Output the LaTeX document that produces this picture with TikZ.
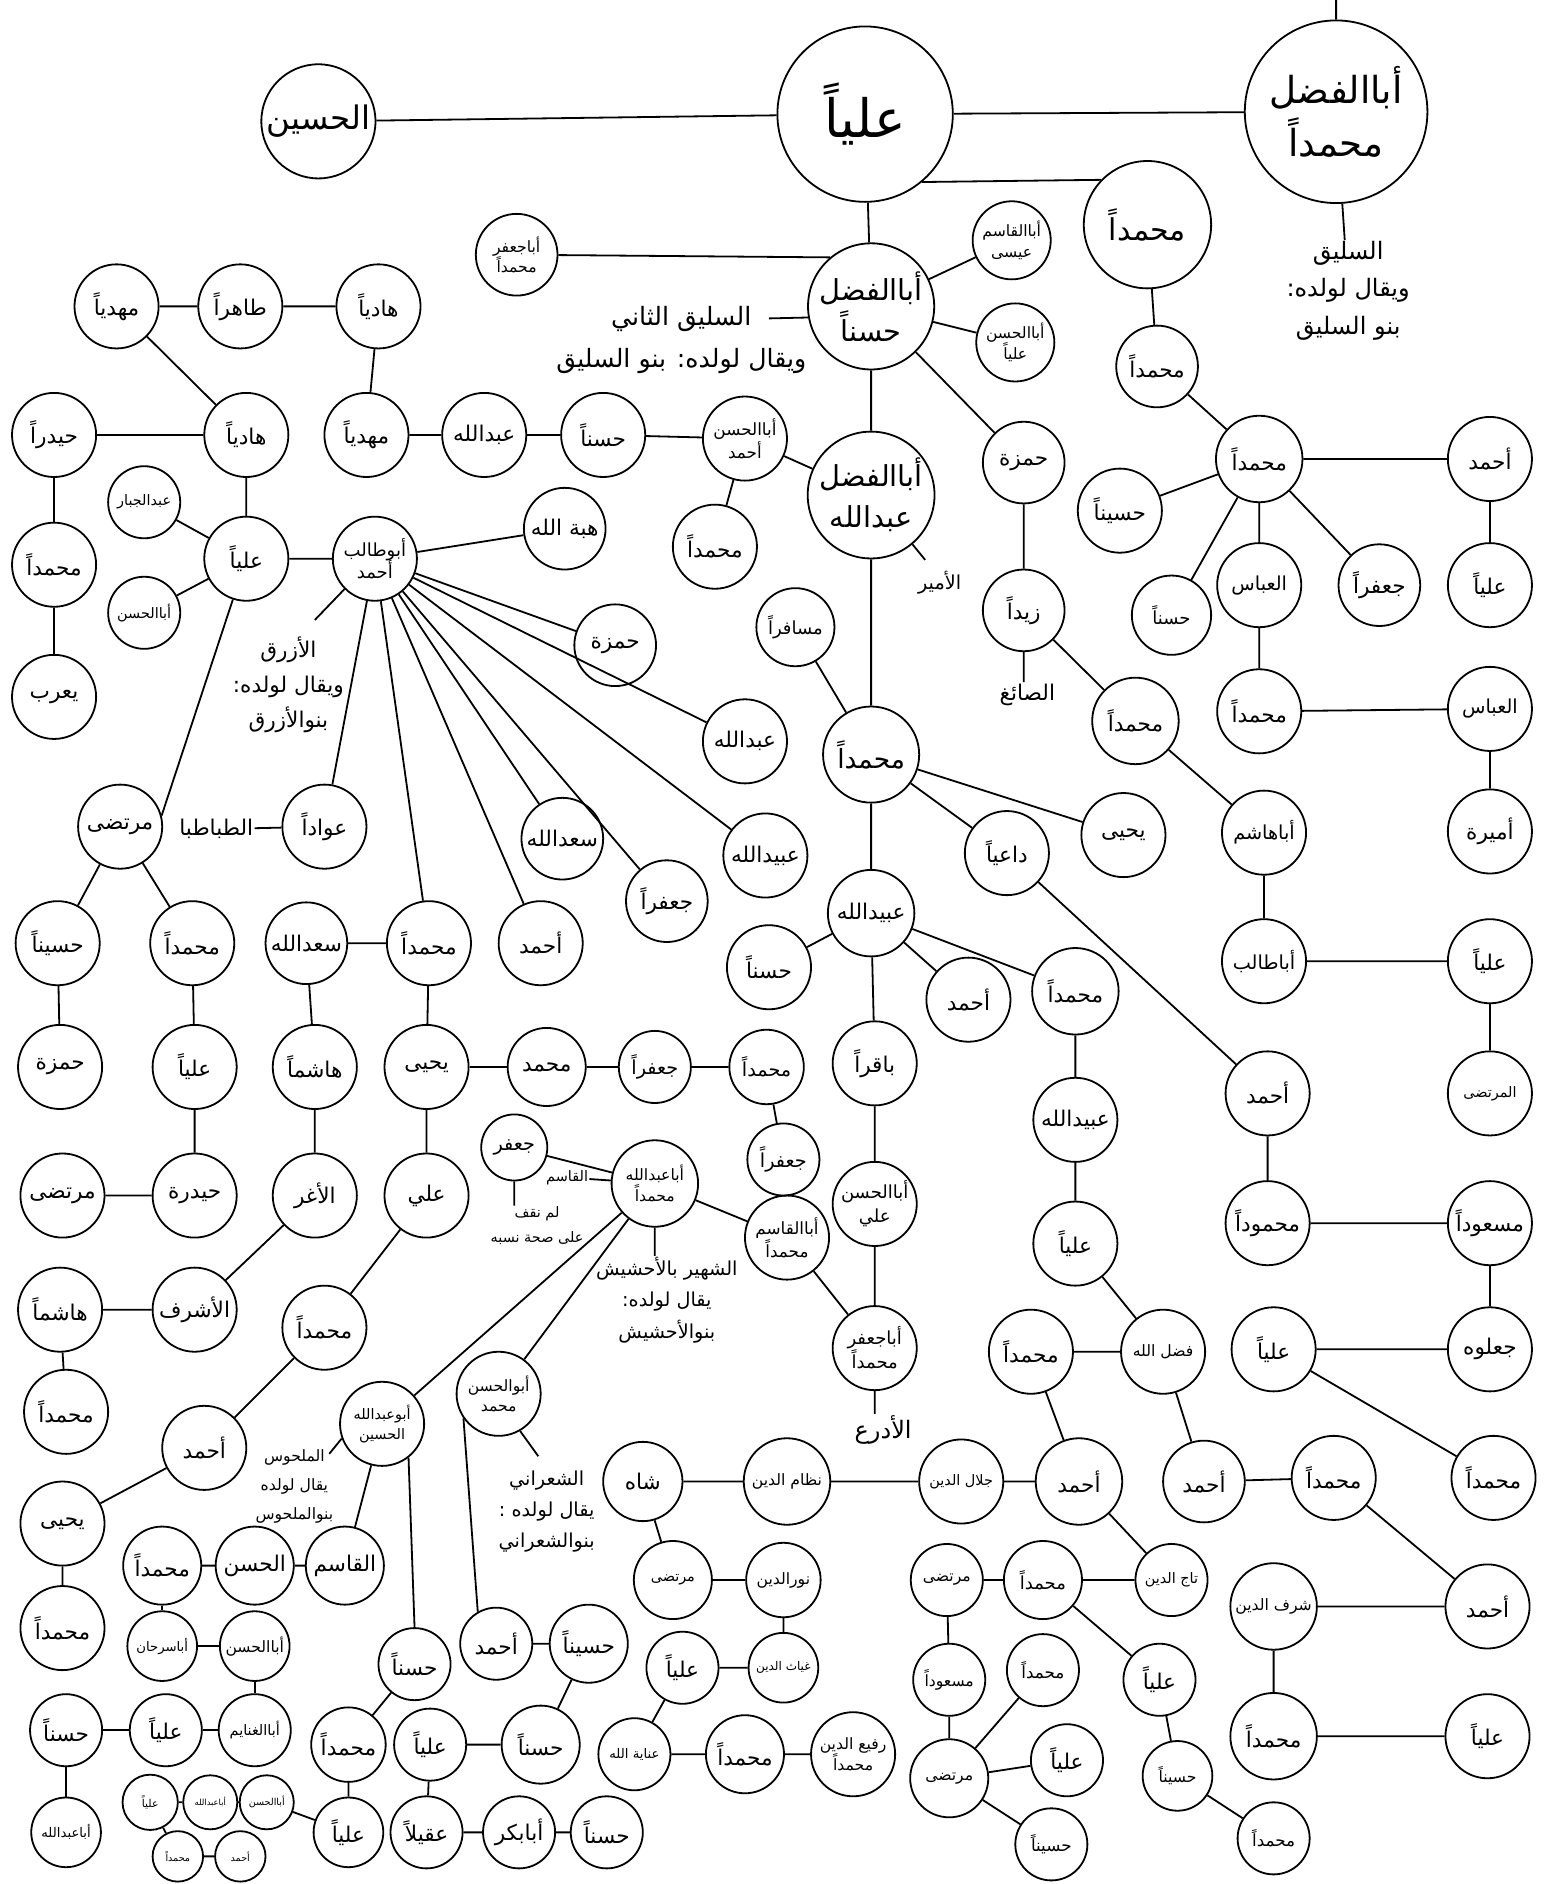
\documentclass[tikz,border=0pt]{standalone}
\usepackage{fontspec}
\usepackage{tikz}
\usetikzlibrary{positioning}
\newfontfamily\arabicfont[Script=Arabic]{DejaVu Sans}
\TeXXeTstate=1
\newcommand{\ar}[1]{\beginR#1\endR}
\newcommand{\arf}[2]{\arabicfont\fontsize{#1}{#2}\selectfont}

\begin{document}
\begin{tikzpicture}[
        x=1pt, y=-1pt,
        pers/.style={draw, circle, line width=1.5pt, inner sep=0pt, minimum size=70pt, align=center, font=\arf{18}{21}},
        duo/.style={pers, font=\arf{13}{17}},
        wee/.style={pers, font=\arf{11}{13}},
        note/.style={align=center, inner sep=1pt, font=\arf{18}{27}},
        link/.style={line width=1.5pt}
    ]
    \useasboundingbox (0,0) rectangle (1290,1568);
    % top row
    \node[pers, minimum size=95pt, font=\arf{27}{30}] (husayn) at (265,101) {\ar{الحسين}};
    \node[pers, minimum size=146pt, font=\arf{44}{48}] (ali0) at (720,95) {\ar{علياً}};
    \node[pers, minimum size=152pt, font=\arf{31}{44}] (fadlM) at (1112,93) {\ar{أباالفضل}\\\ar{محمداً}};
    \coordinate (topend) at (1112,0);
    \node[note, font=\arf{20}{31}] (salq) at (1122,242) {\ar{السليق}\\\ar{ويقال لولده:}\\\ar{بنو السليق}};
    \node[pers, minimum size=106pt, font=\arf{25}{28}] (mu1) at (955,187) {\ar{محمداً}};
    % right side
    \node[pers, minimum size=68pt] (mu2) at (963,305) {\ar{محمداً}};
    \node[pers, minimum size=72pt] (mu3) at (1048,382) {\ar{محمداً}};
    \node[pers] (ahmadR) at (1240,382) {\ar{أحمد}};
    \node[pers] (aliR1) at (1240,487) {\ar{علياً}};
    \node[pers] (husaynR) at (932,425) {\ar{حسيناً}};
    \node[pers, minimum size=66pt, font=\arf{15}{17}] (hasanR) at (975,512) {\ar{حسناً}};
    \node[pers, font=\arf{16}{18}] (abbas1) at (1048,487) {\ar{العباس}};
    \node[pers, minimum size=68pt] (jafarR) at (1148,487) {\ar{جعفراً}};
    \node[pers] (muR4) at (1048,592) {\ar{محمداً}};
    \node[pers, font=\arf{16}{18}] (abbas2) at (1240,590) {\ar{العباس}};
    \node[pers] (amira) at (1240,692) {\ar{أميرة}};
    \node[pers, font=\arf{16}{18}] (abuhashim) at (1052,693) {\ar{أباهاشم}};
    \node[pers, font=\arf{16}{18}] (abutalibR) at (1052,800) {\ar{أباطالب}};
    \node[pers] (aliR2) at (1240,800) {\ar{علياً}};
    \node[pers, font=\arf{12}{14}] (murtadaR) at (1240,910) {\ar{المرتضى}};
    \node[pers] (ahmadD) at (1055,910) {\ar{أحمد}};
    \node[pers] (mahmud) at (1055,1018) {\ar{محموداً}};
    \node[pers] (masud) at (1240,1018) {\ar{مسعوداً}};
    \node[pers] (jalwa) at (1240,1123) {\ar{جعلوه}};
    \node[pers] (aliJ) at (1060,1123) {\ar{علياً}};
    \node[pers] (muJ) at (1243,1230) {\ar{محمداً}};
    \node[pers, minimum size=68pt] (ahmadF) at (1002,1233) {\ar{أحمد}};
    \node[pers] (muF) at (1110,1230) {\ar{محمداً}};
    \node[pers] (ahmadS) at (1238,1337) {\ar{أحمد}};
    \node[pers, minimum size=72pt, font=\arf{13}{15}] (sharaf) at (1060,1337) {\ar{شرف الدين}};
    \node[pers, minimum size=72pt] (muS) at (1060,1445) {\ar{محمداً}};
    \node[pers] (aliS) at (1238,1445) {\ar{علياً}};
    % centre
    \node[pers, minimum size=105pt, font=\arf{24}{34}] (fadlH) at (725,255) {\ar{أباالفضل}\\\ar{حسناً}};
    \node[duo, minimum size=68pt] (jafarM) at (430,212) {\ar{أباجعفر}\\\ar{محمداً}};
    \node[duo, minimum size=65pt] (qasimIsa) at (842,200) {\ar{أباالقاسم}\\\ar{عيسى}};
    \node[duo, minimum size=65pt] (hasanAli) at (845,285) {\ar{أباالحسن}\\\ar{علياً}};
    \node[note, font=\arf{21}{35}] (salq2) at (567,283) {\ar{السليق الثاني}\\\ar{ويقال لولده: بنو السليق}};
    \coordinate (salq2e) at (640,265);
    \node[pers, minimum size=68pt] (hamza1) at (852,385) {\ar{حمزة}};
    \node[pers, minimum size=68pt] (zayd) at (852,508) {\ar{زيداً}};
    \node[note] (saigh) at (855,578) {\ar{الصائغ}};
    \node[pers, minimum size=72pt] (muZ) at (945,600) {\ar{محمداً}};
    \node[pers, minimum size=100pt, font=\arf{24}{34}] (fadlA) at (725,412) {\ar{أباالفضل}\\\ar{عبدالله}};
    \node[note, font=\arf{16}{18}] (amir) at (782,485) {\ar{الأمير}};
    \coordinate (amire) at (770,466);
    \node[duo, font=\arf{14}{19}] (hasanAhmad) at (620,365) {\ar{أباالحسن}\\\ar{أحمد}};
    \node[pers] (muHA) at (595,455) {\ar{محمداً}};
    \node[pers] (hasanH) at (502,362) {\ar{حسناً}};
    \node[pers] (abdallahH) at (403,362) {\ar{عبدالله}};
    \node[pers] (mahdi2) at (305,362) {\ar{مهدياً}};
    \node[pers] (hadi1) at (315,255) {\ar{هادياً}};
    \node[pers] (tahir) at (200,255) {\ar{طاهراً}};
    \node[pers] (mahdi1) at (97,255) {\ar{مهدياً}};
    \node[pers] (hadi2) at (205,362) {\ar{هادياً}};
    \node[pers] (haydar) at (45,362) {\ar{حيدراً}};
    \node[pers] (muH) at (45,470) {\ar{محمداً}};
    \node[pers] (yarub) at (45,580) {\ar{يعرب}};
    \node[pers] (aliT) at (205,465) {\ar{علياً}};
    \node[wee, minimum size=60pt, font=\arf{12}{14}] (abdjabbar) at (120,418) {\ar{عبدالجبار}};
    \node[wee, minimum size=60pt, font=\arf{12}{14}] (abuhasanT) at (120,510) {\ar{أباالحسن}};
    \node[duo, font=\arf{15}{19}] (abutalib) at (312,465) {\ar{أبوطالب}\\\ar{أحمد}};
    \node[pers, minimum size=68pt] (hibat) at (470,440) {\ar{هبة الله}};
    \node[note, font=\arf{18}{29}] (azraq) at (240,570) {\ar{الأزرق}\\\ar{ويقال لولده:}\\\ar{بنوالأزرق}};
    \coordinate (azraqe) at (262,516);
    \node[pers] (murtada1) at (100,688) {\ar{مرتضى}};
    \node[note] (tabataba) at (180,690) {\ar{الطباطبا}};
    \node[pers] (awwad) at (270,688) {\ar{عواداً}};
    \node[pers, minimum size=68pt] (hamzaT) at (512,537) {\ar{حمزة}};
    \node[pers] (abdallahT) at (620,617) {\ar{عبدالله}};
    \node[pers] (ubaydT) at (637,712) {\ar{عبيدالله}};
    \node[pers, minimum size=68pt] (jafarT) at (555,750) {\ar{جعفراً}};
    \node[pers, minimum size=68pt] (sadT) at (468,698) {\ar{سعدالله}};
    \node[pers] (ahmadT) at (450,785) {\ar{أحمد}};
    \node[pers] (muT) at (357,785) {\ar{محمداً}};
    % left lower
    \node[pers] (husaynM) at (48,785) {\ar{حسيناً}};
    \node[pers] (muM) at (160,785) {\ar{محمداً}};
    \node[pers] (hamzaM) at (50,888) {\ar{حمزة}};
    \node[pers] (aliM) at (162,888) {\ar{علياً}};
    \node[pers] (haydara) at (162,995) {\ar{حيدرة}};
    \node[pers] (murtada2) at (52,995) {\ar{مرتضى}};
    \node[pers, minimum size=68pt] (sadM) at (255,785) {\ar{سعدالله}};
    \node[pers] (hashim1) at (262,888) {\ar{هاشماً}};
    \node[pers] (aghar) at (262,995) {\ar{الأغر}};
    \node[pers] (ashraf) at (162,1090) {\ar{الأشرف}};
    \node[pers] (hashim2) at (50,1090) {\ar{هاشماً}};
    \node[pers] (muHs) at (55,1175) {\ar{محمداً}};
    \node[pers] (yahya1) at (355,888) {\ar{يحيى}};
    \node[pers] (aliY) at (355,995) {\ar{علي}};
    \node[pers] (muY) at (270,1105) {\ar{محمداً}};
    \node[pers] (ahmadY) at (170,1205) {\ar{أحمد}};
    \node[pers] (yahya2) at (52,1268) {\ar{يحيى}};
    \node[pers] (muY2) at (52,1355) {\ar{محمداً}};
    \node[pers, minimum size=65pt] (muhammadN) at (455,888) {\ar{محمد}};
    \node[pers, minimum size=60pt, font=\arf{16}{18}] (jafarN) at (545,888) {\ar{جعفراً}};
    \node[pers, minimum size=62pt, font=\arf{16}{18}] (muN) at (638,888) {\ar{محمداً}};
    \node[pers, minimum size=60pt, font=\arf{16}{18}] (jafarN2) at (652,965) {\ar{جعفراً}};
    \node[pers, minimum size=55pt, font=\arf{16}{18}] (jafar) at (428,955) {\ar{جعفر}};
    \node[note, font=\arf{12}{20}] (lamnaqif) at (447,1020) {\ar{لم نقف}\\\ar{على صحة نسبه}};
    \node[duo, minimum size=72pt] (abuabdallah) at (545,985) {\ar{أباعبدالله}\\\ar{محمداً}};
    \node[note, font=\arf{12}{14}] (qasimL) at (472,980) {\ar{القاسم}};
    \node[note, font=\arf{16}{26}] (ahshish) at (555,1082) {\ar{الشهير بالأحشيش}\\\ar{يقال لولده:}\\\ar{بنوالأحشيش}};
    \node[duo, font=\arf{14}{19}] (abuqasimM) at (655,1030) {\ar{أباالقاسم}\\\ar{محمداً}};
    \node[duo, font=\arf{15}{20}] (abuhasanAli) at (728,1002) {\ar{أباالحسن}\\\ar{علي}};
    \node[duo, font=\arf{15}{20}] (abujafarM) at (728,1122) {\ar{أباجعفر}\\\ar{محمداً}};
    \node[note, font=\arf{20}{24}] (adra) at (735,1190) {\ar{الأدرع}};
    % centre lower
    \node[pers, minimum size=65pt, font=\arf{15}{17}] (musafir) at (662,522) {\ar{مسافراً}};
    \node[pers, minimum size=80pt, font=\arf{22}{26}] (muC) at (725,628) {\ar{محمداً}};
    \node[pers] (yahyaC) at (935,695) {\ar{يحيى}};
    \node[pers] (daiya) at (838,710) {\ar{داعياً}};
    \node[pers, minimum size=72pt] (ubaydC) at (725,760) {\ar{عبيدالله}};
    \node[pers] (hasanC) at (640,805) {\ar{حسناً}};
    \node[pers] (ahmadC) at (806,832) {\ar{أحمد}};
    \node[pers, minimum size=72pt] (muC2) at (895,825) {\ar{محمداً}};
    \node[pers] (baqir) at (728,885) {\ar{باقراً}};
    \node[pers] (ubaydC2) at (895,932) {\ar{عبيدالله}};
    \node[pers] (aliC) at (895,1035) {\ar{علياً}};
    \node[pers, font=\arf{13}{15}] (fadlallah) at (968,1125) {\ar{فضل الله}};
    \node[pers] (muFa) at (858,1125) {\ar{محمداً}};
    \node[pers, minimum size=72pt] (ahmadJ) at (898,1233) {\ar{أحمد}};
    \node[pers, font=\arf{12}{14}] (jalal) at (800,1233) {\ar{جلال الدين}};
    \node[pers, minimum size=72pt, font=\arf{13}{15}] (nizam) at (655,1233) {\ar{نظام الدين}};
    \node[pers, minimum size=66pt] (shah) at (535,1233) {\ar{شاه}};
    \node[pers, minimum size=65pt, font=\arf{12}{14}] (murtadaS) at (560,1315) {\ar{مرتضى}};
    \node[pers, minimum size=62pt, font=\arf{13}{15}] (nuraldin) at (652,1315) {\ar{نورالدين}};
    \node[pers, minimum size=58pt, font=\arf{10}{12}] (ghiyath) at (652,1388) {\ar{غياث الدين}};
    \node[pers, minimum size=60pt] (aliG) at (568,1388) {\ar{علياً}};
    \node[pers, minimum size=60pt, font=\arf{11}{13}] (inayat) at (528,1460) {\ar{عناية الله}};
    \node[pers, minimum size=65pt] (muI) at (620,1460) {\ar{محمداً}};
    \node[duo] (rafi) at (710,1460) {\ar{رفيع الدين}\\\ar{محمداً}};
    \node[pers, minimum size=60pt, font=\arf{12}{14}] (taj) at (975,1315) {\ar{تاج الدين}};
    \node[pers, minimum size=65pt, font=\arf{15}{17}] (muT2) at (868,1315) {\ar{محمداً}};
    \node[pers, minimum size=60pt, font=\arf{13}{15}] (murtadaT) at (788,1315) {\ar{مرتضى}};
    \node[pers, minimum size=60pt, font=\arf{13}{15}] (masudT) at (790,1398) {\ar{مسعوداً}};
    \node[pers, minimum size=65pt, font=\arf{13}{15}] (murtadaT2) at (790,1480) {\ar{مرتضى}};
    \node[pers, minimum size=60pt, font=\arf{14}{16}] (muT3) at (868,1390) {\ar{محمداً}};
    \node[pers, minimum size=60pt] (aliT3) at (888,1465) {\ar{علياً}};
    \node[pers, minimum size=60pt, font=\arf{14}{16}] (husaynT3) at (875,1535) {\ar{حسيناً}};
    \node[pers, minimum size=60pt] (aliT4) at (965,1398) {\ar{علياً}};
    \node[pers, minimum size=58pt, font=\arf{13}{15}] (husaynT4) at (980,1478) {\ar{حسيناً}};
    \node[pers, minimum size=60pt, font=\arf{14}{16}] (muT4) at (1060,1530) {\ar{محمداً}};
    % bottom left
    \node[duo, font=\arf{12}{17}] (abuabdallahH) at (318,1185) {\ar{أبوعبدالله}\\\ar{الحسين}};
    \node[note, font=\arf{13}{24}] (malhus) at (245,1237) {\ar{الملحوس}\\\ar{يقال لولده}\\\ar{بنوالملحوس}};
    \coordinate (malhuse) at (274,1210);
    \node[pers, minimum size=65pt] (qasimH) at (287,1303) {\ar{القاسم}};
    \node[pers, minimum size=65pt] (hasanQ) at (212,1303) {\ar{الحسن}};
    \node[pers, minimum size=65pt] (muQ) at (135,1303) {\ar{محمداً}};
    \node[wee, minimum size=58pt] (abusirhan) at (135,1370) {\ar{أباسرحان}};
    \node[pers, minimum size=58pt, font=\arf{13}{15}] (abuhasanQ) at (212,1370) {\ar{أباالحسن}};
    \node[pers, minimum size=60pt, font=\arf{12}{14}] (abughanayim) at (212,1440) {\ar{أباالغنايم}};
    \node[pers, minimum size=60pt] (aliQ) at (138,1440) {\ar{علياً}};
    \node[pers, minimum size=60pt] (hasanQ2) at (55,1440) {\ar{حسناً}};
    \node[wee, minimum size=58pt] (abuabdallahQ) at (55,1525) {\ar{أباعبدالله}};
    \node[pers, minimum size=60pt] (hasanAH) at (345,1385) {\ar{حسناً}};
    \node[pers, minimum size=62pt] (muAH) at (290,1452) {\ar{محمداً}};
    \node[pers, minimum size=58pt] (aliAH) at (290,1525) {\ar{علياً}};
    \node[pers, minimum size=45pt, font=\arf{8}{10}] (abuhasanS) at (222,1500) {\ar{أباالحسن}};
    \node[pers, minimum size=45pt, font=\arf{7}{9}] (abuabdallahS) at (175,1500) {\ar{أباعبدالله}};
    \node[pers, minimum size=46pt, font=\arf{9}{11}] (aliS2) at (125,1500) {\ar{علياً}};
    \node[pers, minimum size=42pt, font=\arf{8}{10}] (muS2) at (148,1545) {\ar{محمداً}};
    \node[pers, minimum size=42pt, font=\arf{8}{10}] (ahmadS2) at (200,1545) {\ar{أحمد}};
    \node[duo] (abuhasanM) at (415,1160) {\ar{أبوالحسن}\\\ar{محمد}};
    \node[note, font=\arf{16}{26}] (shaarani) at (455,1258) {\ar{الشعراني}\\\ar{يقال لولده :}\\\ar{بنوالشعراني}};
    \coordinate (shaaranie) at (448,1212);
    \node[pers, minimum size=60pt] (ahmadM) at (413,1368) {\ar{أحمد}};
    \node[pers, minimum size=65pt] (husaynM2) at (490,1368) {\ar{حسيناً}};
    \node[pers, minimum size=65pt] (hasanM2) at (450,1452) {\ar{حسناً}};
    \node[pers, minimum size=60pt] (aliM2) at (358,1452) {\ar{علياً}};
    \node[pers, minimum size=60pt] (aqil) at (355,1525) {\ar{عقيلاً}};
    \node[pers, minimum size=60pt] (abubakr) at (432,1525) {\ar{أبابكر}};
    \node[pers, minimum size=60pt] (hasanB) at (505,1525) {\ar{حسناً}};

    % connectors
    \draw[link] (ali0) -- (husayn) (ali0) -- (fadlM) (ali0.-50) -- (mu1.136) (ali0) -- (fadlH);
    \draw[link] (fadlM) -- (topend) (fadlM) -- (salq);
    \draw[link] (mu1) -- (mu2) (mu2) -- (mu3) (mu3) -- (ahmadR) (ahmadR) -- (aliR1);
    \draw[link] (mu3) -- (husaynR) (mu3) -- (hasanR) (mu3) -- (abbas1) (mu3) -- (jafarR);
    \draw[link] (abbas1) -- (muR4) (muR4) -- (abbas2) (abbas2) -- (amira);
    \draw[link] (muZ) -- (abuhashim) (abuhashim) -- (abutalibR) (abutalibR) -- (aliR2) (aliR2) -- (murtadaR);
    \draw[link] (daiya) -- (ahmadD) (ahmadD) -- (mahmud) (mahmud) -- (masud) (masud) -- (jalwa) (jalwa) -- (aliJ) (aliJ) -- (muJ);
    \draw[link] (fadlallah) -- (ahmadF) (ahmadF) -- (muF) (muF) -- (ahmadS) (ahmadS) -- (sharaf) (sharaf) -- (muS) (muS) -- (aliS);
    \draw[link] (jafarM) -- (fadlH.130) (fadlH) -- (qasimIsa) (fadlH) -- (hasanAli) (fadlH) -- (hamza1) (fadlH) -- (fadlA) (fadlH.190) -- (salq2e);
    \draw[link] (hamza1) -- (zayd) (zayd.south) -- (zayd.south |- saigh.north) (zayd) -- (muZ);
    \draw[link] (fadlA) -- (hasanAhmad) (fadlA.-50) -- (amire) (fadlA) -- (muC);
    \draw[link] (hasanAhmad) -- (muHA) (hasanAhmad) -- (hasanH) (hasanH) -- (abdallahH) (abdallahH) -- (mahdi2) (mahdi2) -- (hadi1);
    \draw[link] (hadi1) -- (tahir) (tahir) -- (mahdi1) (mahdi1) -- (hadi2) (hadi2) -- (haydar) (haydar) -- (muH) (muH) -- (yarub);
    \draw[link] (hadi2) -- (aliT) (aliT) -- (abdjabbar) (aliT) -- (abuhasanT) (aliT) -- (abutalib) (aliT) -- (murtada1.15);
    \draw[link] (abutalib) -- (hibat) (abutalib) -- (hamzaT) (abutalib) -- (abdallahT) (abutalib) -- (ubaydT) (abutalib) -- (jafarT);
    \draw[link] (abutalib) -- (sadT) (abutalib) -- (ahmadT) (abutalib) -- (muT) (abutalib) -- (awwad) (abutalib.225) -- (azraqe);
    \draw[link] (awwad) -- (tabataba);
    \draw[link] (murtada1) -- (husaynM) (murtada1) -- (muM) (husaynM) -- (hamzaM) (muM) -- (aliM) (aliM) -- (haydara) (haydara) -- (murtada2);
    \draw[link] (muT) -- (sadM) (sadM) -- (hashim1) (hashim1) -- (aghar) (aghar) -- (ashraf) (ashraf) -- (hashim2) (hashim2) -- (muHs);
    \draw[link] (muT) -- (yahya1) (yahya1) -- (aliY) (aliY) -- (muY) (muY) -- (ahmadY) (ahmadY) -- (yahya2) (yahya2) -- (muY2);
    \draw[link] (yahya1) -- (muhammadN) (muhammadN) -- (jafarN) (jafarN) -- (muN) (muN) -- (jafarN2);
    \draw[link] (abuabdallah) -- (jafar) (jafar.south) -- (jafar.south |- lamnaqif.north) (abuabdallah) -- (qasimL);
    \draw[link] (abuabdallah.south) -- (abuabdallah.south |- ahshish.north) (abuabdallah) -- (abuqasimM);
    \draw[link] (abuabdallah) -- (abuabdallahH) (abuabdallah) -- (abuhasanM);
    \draw[link] (abuqasimM) -- (abujafarM) (abuhasanAli) -- (abujafarM) (abujafarM.south) -- (abujafarM.south |- adra.north);
    \draw[link] (musafir) -- (muC) (muC) -- (yahyaC) (muC) -- (daiya) (muC) -- (ubaydC);
    \draw[link] (ubaydC) -- (hasanC) (ubaydC) -- (ahmadC) (ubaydC) -- (muC2) (ubaydC) -- (baqir) (baqir) -- (abuhasanAli);
    \draw[link] (muC2) -- (ubaydC2) (ubaydC2) -- (aliC) (aliC) -- (fadlallah) (fadlallah) -- (muFa) (muFa) -- (ahmadJ);
    \draw[link] (ahmadJ) -- (jalal) (jalal) -- (nizam) (nizam) -- (shah) (shah) -- (murtadaS) (murtadaS) -- (nuraldin);
    \draw[link] (nuraldin) -- (ghiyath) (ghiyath) -- (aliG) (aliG) -- (inayat) (inayat) -- (muI) (muI) -- (rafi);
    \draw[link] (ahmadJ) -- (taj) (taj) -- (muT2) (muT2) -- (murtadaT) (murtadaT) -- (masudT) (masudT) -- (murtadaT2);
    \draw[link] (murtadaT2) -- (muT3) (murtadaT2) -- (aliT3) (murtadaT2) -- (husaynT3);
    \draw[link] (muT2) -- (aliT4) (aliT4) -- (husaynT4) (husaynT4) -- (muT4);
    \draw[link] (abuabdallahH.200) -- (malhuse) (abuabdallahH) -- (qasimH) (qasimH) -- (hasanQ) (hasanQ) -- (muQ);
    \draw[link] (muQ) -- (abusirhan) (abusirhan) -- (abuhasanQ) (abuhasanQ) -- (abughanayim) (abughanayim) -- (aliQ) (aliQ) -- (hasanQ2) (hasanQ2) -- (abuabdallahQ);
    \draw[link] (abuabdallahH.-52) -- (hasanAH.north) (hasanAH) -- (muAH) (muAH) -- (aliAH) (aliAH) -- (abuhasanS);
    \draw[link] (abuhasanS) -- (abuabdallahS) (abuabdallahS) -- (aliS2) (aliS2) -- (muS2) (muS2) -- (ahmadS2);
    \draw[link] (abuhasanM.-60) -- (shaaranie) (abuhasanM.215) -- (ahmadM.120) (ahmadM) -- (husaynM2) (husaynM2) -- (hasanM2);
    \draw[link] (hasanM2) -- (aliM2) (aliM2) -- (aqil) (aqil) -- (abubakr) (abubakr) -- (hasanB);
\end{tikzpicture}
\end{document}
